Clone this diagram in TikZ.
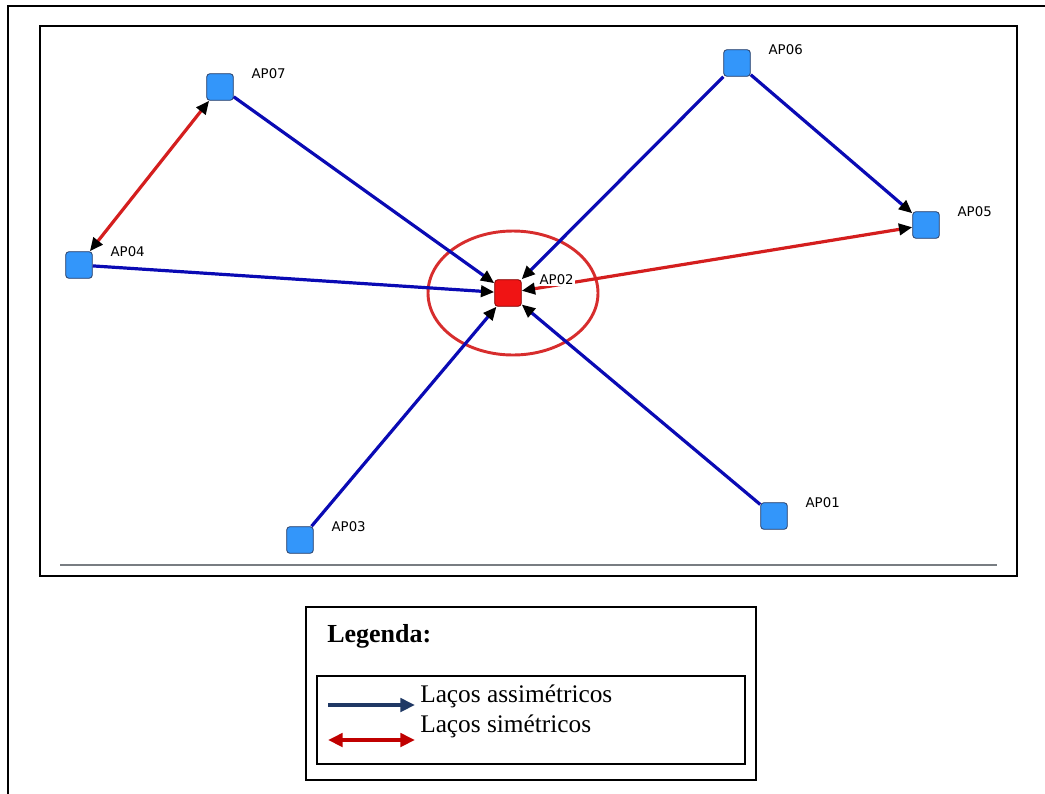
\documentclass[tikz,border=0pt]{standalone}
\usepackage{fontspec}
\setmainfont{Liberation Serif}
\newfontfamily\apfont{DejaVu Sans}
\usetikzlibrary{arrows.meta,positioning}

\definecolor{apblue}{RGB}{51,150,250}
\definecolor{apborder}{RGB}{40,60,100}
\definecolor{hubred}{RGB}{240,20,20}
\definecolor{edgeblue}{RGB}{10,10,180}
\definecolor{edgered}{RGB}{212,30,30}
\definecolor{ringred}{RGB}{215,45,45}
\definecolor{legblue}{RGB}{31,56,100}
\definecolor{legred}{RGB}{192,0,0}
\definecolor{rulegray}{RGB}{120,125,130}

\begin{document}
\begin{tikzpicture}[
    x=0.75pt, y=-0.75pt,
    ap/.style={rectangle, draw=apborder, line width=0.6pt, fill=apblue, rounded corners=2.5pt, minimum size=20pt, inner sep=0pt},
    hub/.style={ap, fill=hubred, draw=red!50!black},
    aplabel/.style={font=\apfont\fontsize{10}{12}\selectfont, fill=white, inner sep=1pt, anchor=west},
    asym/.style={-{Triangle[black, length=10pt, width=8.5pt]}, line width=2.4pt, draw=edgeblue},
    sym/.style={{Triangle[black, length=10pt, width=8.5pt]}-{Triangle[black, length=10pt, width=8.5pt]}, line width=2.4pt, draw=edgered},
    frame/.style={draw=black, line width=1.5pt},
    legtext/.style={font=\fontsize{19}{22}\selectfont, anchor=base west, inner sep=0pt},
]
\useasboundingbox (0,0) rectangle (1045,793);

% frames
\draw[frame] (7.5,800) -- (7.5,6) -- (1050,6);
\draw[frame] (40,26) rectangle (1017,576);
\draw[draw=rulegray, line width=1.5pt] (60,564.5) -- (997,564.5);

% access points
\node[hub] (ap02) at (508,293) {};
\node[ap] (ap01) at (774,516) {};
\node[ap] (ap03) at (300,540) {};
\node[ap] (ap04) at (79,265) {};
\node[ap] (ap05) at (926,225) {};
\node[ap] (ap06) at (737,63) {};
\node[ap] (ap07) at (220,87) {};

% highlight round the hub
\draw[draw=ringred, line width=2.2pt] (513,293) ellipse [x radius=63.75pt, y radius=46.5pt];

% ties
\draw[asym] (ap07) -- (ap02);
\draw[asym] (ap04) -- (ap02);
\draw[asym] (ap06) -- (ap02);
\draw[asym] (ap03) -- (ap02);
\draw[asym] (ap01) -- (ap02);
\draw[asym] (ap06) -- (ap05);
\draw[sym] (ap04) -- (ap07);
\draw[sym] (ap02) -- (ap05);

% labels
\node[aplabel] (t01) at ([shift={(30,-13)}]ap01.center) {AP01};
\node[aplabel] (t02) at ([shift={(30,-13)}]ap02.center) {AP02};
\node[aplabel] (t03) at ([shift={(30,-13)}]ap03.center) {AP03};
\node[aplabel] (t04) at ([shift={(30,-13)}]ap04.center) {AP04};
\node[aplabel] (t05) at ([shift={(30,-13)}]ap05.center) {AP05};
\node[aplabel] (t06) at ([shift={(30,-13)}]ap06.center) {AP06};
\node[aplabel] (t07) at ([shift={(30,-13)}]ap07.center) {AP07};

% legend
\draw[line width=1.5pt] (306,607) rectangle (756,780);
\draw[line width=1.2pt] (317,676) rectangle (745,764);
\node[legtext, font=\bfseries\fontsize{19.5}{22}\selectfont] (legtitle) at (327,642) {Legenda:};
\coordinate (asymA) at (328,705);
\coordinate (asymB) at (415,705);
\coordinate (symA) at (328,740);
\coordinate (symB) at (415,740);
\draw[-{Triangle[length=11pt, width=10pt]}, line width=3pt, draw=legblue] (asymA) -- (asymB);
\draw[{Triangle[length=11pt, width=10pt]}-{Triangle[length=11pt, width=10pt]}, line width=3pt, draw=legred] (symA) -- (symB);
\node[legtext] (asymtext) at (420,702) {Laços assimétricos};
\node[legtext] (symtext) at (420,732) {Laços simétricos};

\end{tikzpicture}
\end{document}
